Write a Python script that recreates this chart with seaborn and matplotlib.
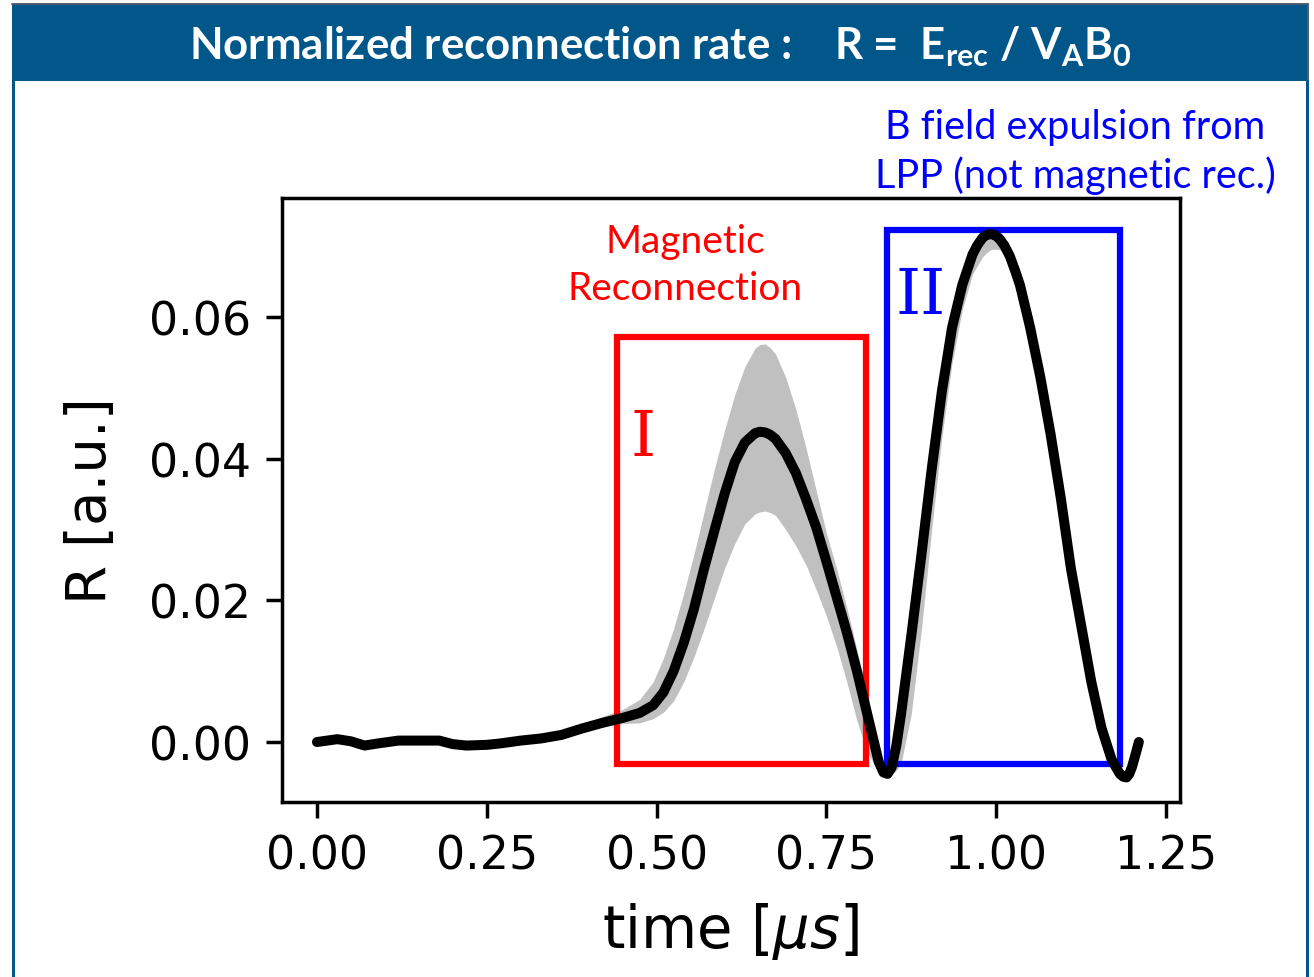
import matplotlib
matplotlib.use("Agg")
import matplotlib.pyplot as plt
from matplotlib.patches import Rectangle
from matplotlib.lines import Line2D
import pandas as pd
import seaborn as sns

# time [us] and normalized reconnection rate (mean, lower and upper spread)
t = [0.000, 0.030, 0.050, 0.070, 0.090, 0.120, 0.150, 0.180, 0.200, 0.220,
     0.250, 0.270, 0.300, 0.330, 0.360, 0.390, 0.420, 0.450, 0.475, 0.495,
     0.510, 0.525, 0.540, 0.555, 0.570, 0.585, 0.600, 0.615, 0.630, 0.645,
     0.652, 0.660, 0.667, 0.675, 0.690, 0.705, 0.720, 0.735, 0.750, 0.765,
     0.780, 0.795, 0.810, 0.820, 0.827, 0.834, 0.840, 0.846, 0.853, 0.860,
     0.875, 0.890, 0.905, 0.920, 0.935, 0.950, 0.965, 0.972, 0.980, 0.986,
     0.992, 0.998, 1.005, 1.012, 1.020, 1.028, 1.035, 1.050, 1.065, 1.080,
     1.095, 1.110, 1.125, 1.140, 1.155, 1.170, 1.182, 1.187, 1.192, 1.196,
     1.200, 1.205, 1.210]
R = [0.0000, 0.0004, 0.0001, -0.0005, -0.0002, 0.0002, 0.0002, 0.0002, -0.0003, -0.0005,
     -0.0004, -0.0002, 0.0002, 0.0005, 0.0010, 0.0019, 0.0027, 0.0034, 0.0041, 0.0052,
     0.0070, 0.0100, 0.0140, 0.0188, 0.0245, 0.0298, 0.0350, 0.0395, 0.0423, 0.0436,
     0.0438, 0.0437, 0.0434, 0.0428, 0.0408, 0.0380, 0.0343, 0.0303, 0.0255, 0.0205,
     0.0155, 0.0100, 0.0040, 0.0000, -0.0028, -0.0043, -0.0045, -0.0036, -0.0005, 0.0040,
     0.0150, 0.0265, 0.0385, 0.0495, 0.0585, 0.0645, 0.0688, 0.0701, 0.0712, 0.0716,
     0.0717, 0.0716, 0.0710, 0.0701, 0.0686, 0.0665, 0.0645, 0.0585, 0.0515, 0.0435,
     0.0345, 0.0245, 0.0165, 0.0085, 0.0020, -0.0025, -0.0045, -0.0049, -0.0050, -0.0045,
     -0.0035, -0.0018, 0.0000]
R_lo = [0.0000, 0.0004, 0.0001, -0.0005, -0.0002, 0.0002, 0.0002, 0.0002, -0.0003, -0.0005,
        -0.0004, -0.0002, 0.0002, 0.0004, 0.0008, 0.0015, 0.0022, 0.0026, 0.0027, 0.0033,
        0.0042, 0.0058, 0.0085, 0.0120, 0.0160, 0.0203, 0.0245, 0.0280, 0.0308, 0.0322,
        0.0325, 0.0326, 0.0324, 0.0320, 0.0300, 0.0277, 0.0250, 0.0215, 0.0178, 0.0135,
        0.0085, 0.0030, -0.0015, -0.0030, -0.0038, -0.0046, -0.0048, -0.0046, -0.0040, -0.0030,
        0.0040, 0.0160, 0.0300, 0.0430, 0.0535, 0.0610, 0.0660, 0.0672, 0.0685, 0.0691,
        0.0695, 0.0696, 0.0695, 0.0690, 0.0680, 0.0661, 0.0642, 0.0582, 0.0512, 0.0432,
        0.0342, 0.0242, 0.0162, 0.0082, 0.0018, -0.0027, -0.0046, -0.0050, -0.0050, -0.0045,
        -0.0035, -0.0018, 0.0000]
R_hi = [0.0000, 0.0004, 0.0001, -0.0005, -0.0002, 0.0002, 0.0002, 0.0002, -0.0003, -0.0005,
        -0.0004, -0.0002, 0.0002, 0.0006, 0.0012, 0.0024, 0.0036, 0.0046, 0.0060, 0.0085,
        0.0118, 0.0160, 0.0210, 0.0265, 0.0325, 0.0385, 0.0440, 0.0490, 0.0530, 0.0556,
        0.0561, 0.0562, 0.0557, 0.0548, 0.0515, 0.0470, 0.0415, 0.0355, 0.0295, 0.0245,
        0.0190, 0.0130, 0.0065, 0.0020, -0.0020, -0.0038, -0.0040, -0.0032, 0.0000, 0.0045,
        0.0155, 0.0270, 0.0390, 0.0500, 0.0590, 0.0650, 0.0693, 0.0707, 0.0718, 0.0723,
        0.0726, 0.0726, 0.0722, 0.0713, 0.0700, 0.0681, 0.0662, 0.0602, 0.0532, 0.0450,
        0.0358, 0.0256, 0.0173, 0.0090, 0.0023, -0.0025, -0.0045, -0.0049, -0.0050, -0.0045,
        -0.0035, -0.0018, 0.0000]

# highlighted intervals: (t_start, t_end, R_bottom, R_top)
box_I = (0.4417, 0.8083, -0.0031, 0.0572)
box_II = (0.8390, 1.1820, -0.0031, 0.0723)

df = pd.DataFrame({"t": t, "R": R})

sns.set_theme(style="ticks")
plt.rcParams.update({
    "font.family": ["DejaVu Sans"],
    "text.color": "black",
    "axes.labelcolor": "black",
    "mathtext.fontset": "custom",
    "mathtext.rm": "Lato:bold",
    "mathtext.bf": "Lato:bold",
    "mathtext.it": "DejaVu Sans:italic",
    "axes.edgecolor": "black",
    "axes.linewidth": 2.5,
    "xtick.major.width": 2.5,
    "ytick.major.width": 2.5,
    "xtick.major.size": 11.5,
    "ytick.major.size": 11.5,
    "xtick.major.pad": 11,
    "ytick.major.pad": 11,
    "xtick.color": "black",
    "ytick.color": "black",
    "xtick.labelsize": 33,
    "ytick.labelsize": 33,
})

W, H = 1314, 978
fig = plt.figure(figsize=(W / 100, H / 100), dpi=100)
fig.patch.set_facecolor("white")

# panel frame and header bar
navy = "#01568a"
fig.add_artist(Rectangle((12 / W, 1 - 82 / H), 1296 / W, 77 / H,
                         transform=fig.transFigure, facecolor=navy,
                         edgecolor="none", zorder=0))
fig.add_artist(Line2D([12 / W, 1308 / W], [1 - 5 / H, 1 - 5 / H],
                      transform=fig.transFigure, color="#4f5b6e", lw=1.4))
fig.add_artist(Line2D([1307.5 / W, 1307.5 / W], [1 - 5 / H, 1 - 82 / H],
                      transform=fig.transFigure, color="#4f5b6e", lw=1.4))
for xp in (13.0, 1307.0):
    fig.add_artist(Line2D([xp / W, xp / W], [0, 1 - 82 / H],
                          transform=fig.transFigure, color=navy, lw=2.2))
fig.text(0.503, 0.952,
         r"Normalized reconnection rate :    R =  E$_{\mathbf{rec}}$ / V$_{\mathbf{A}}$B$_{\mathbf{0}}$",
         color="white", fontsize=31.5, fontweight="bold", family="Lato",
         ha="center", va="center")

ax = fig.add_axes([282 / W, 1 - 803 / H, 898 / W, 604 / H])
ax.set_facecolor("white")

ax.fill_between(t, R_lo, R_hi, color="#c0c0c0", lw=0, zorder=1)

for (x0, x1, y0, y1), col in ((box_I, "red"), (box_II, "blue")):
    ax.add_patch(Rectangle((x0, y0), x1 - x0, y1 - y0, fill=False,
                           edgecolor=col, lw=4.5, zorder=2))

sns.lineplot(data=df, x="t", y="R", color="black", lw=7.2, ax=ax, zorder=3)

ax.text(0.480, 0.0430, "I", color="red", family="DejaVu Serif", fontsize=46,
        ha="center", va="center", zorder=4)
ax.text(0.888, 0.0630, "II", color="blue", family="DejaVu Serif", fontsize=46,
        ha="center", va="center", zorder=4)

ax.set_xlim(-0.0515, 1.2706)
ax.set_ylim(-0.00847, 0.0768)
ax.set_xticks([0.0, 0.25, 0.5, 0.75, 1.0, 1.25])
ax.set_yticks([0.0, 0.02, 0.04, 0.06])
ax.set_xticklabels(["0.00", "0.25", "0.50", "0.75", "1.00", "1.25"])
ax.set_yticklabels(["0.00", "0.02", "0.04", "0.06"])
for s in ax.spines.values():
    s.set_visible(True)
    s.set_linewidth(2.5)

ax.set_xlabel(r"time [$\mu s$]", fontsize=41.5, labelpad=16, family="DejaVu Sans")
ax.set_ylabel("R [a.u.]", fontsize=40.5, labelpad=22, family="DejaVu Sans")

fig.text(685 / W, 1 - 265.5 / H, "Magnetic\nReconnection", color="red",
         fontsize=28, family="Lato", ha="center", va="center", linespacing=1.35)
fig.text(1075 / W, 1 - 152 / H, "B field expulsion from\nLPP (not magnetic rec.)",
         color="blue", fontsize=28.5, family="Lato", ha="center", va="center",
         linespacing=1.3)

fig.savefig("out.png", dpi=100, facecolor="white")
